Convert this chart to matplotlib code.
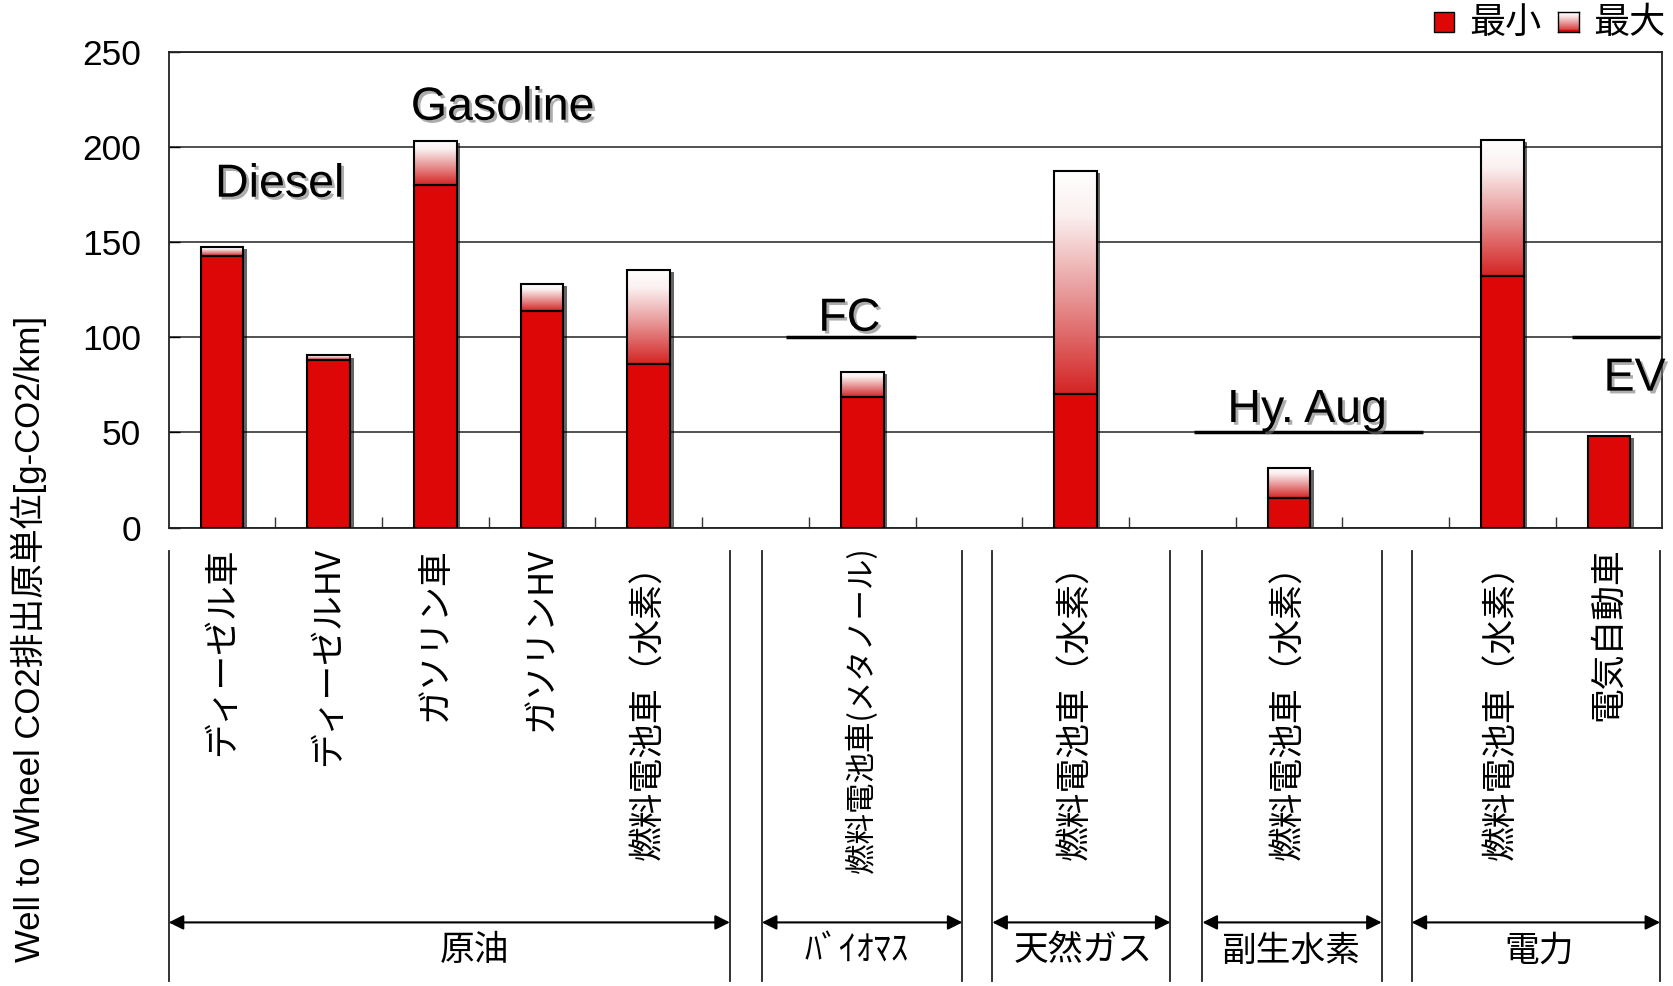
import numpy as np
import matplotlib.pyplot as plt
import matplotlib.patheffects as pe
from matplotlib.patches import Rectangle
from matplotlib.colors import LinearSegmentedColormap
from matplotlib.transforms import blended_transform_factory

plt.rcParams['font.family'] = ['Liberation Sans', 'Noto Sans CJK JP']

# bar slots on the x axis (empty slots separate the groups)
slots = [0, 1, 2, 3, 4, 6, 8, 10, 12, 13]
vehicles = ['ディーゼル車', 'ディーゼルHV', 'ガソリン車', 'ガソリンHV', '燃料電池車（水素）',
            '燃料電池車(メタノール)', '燃料電池車（水素）', '燃料電池車（水素）',
            '燃料電池車（水素）', '電気自動車']
co2_min = [143, 88, 180, 114, 86, 68.5, 70, 15.5, 132.5, 48]
co2_max = [147.5, 90.5, 203.5, 128, 135.5, 82, 187.5, 31.5, 204, 48]

# energy source groups under the axis
sources = ['原油', 'ﾊﾞｲｵﾏｽ', '天然ガス', '副生水素', '電力']
source_spans = [(-0.5, 4.76), (5.06, 6.94), (7.22, 8.89), (9.19, 10.87), (11.15, 13.48)]
source_label_x = [2.37, 5.95, 8.07, 10.02, 12.35]

RED = '#dd0707'
JP = ['Noto Sans CJK JP']
fade = LinearSegmentedColormap.from_list(
    'fade', [(0, '#d42424'), (0.45, '#e89a9a'), (0.8, '#fbf0f0'), (1, '#ffffff')])
grad = np.linspace(0, 1, 256).reshape(-1, 1)

fig = plt.figure(figsize=(16.74, 9.86), dpi=100)
ax = fig.add_axes([0.1008, 0.465, 0.8922, 0.482])

w = 0.4
shadow = [pe.SimplePatchShadow(offset=(2.5, -1.5), shadow_rgbFace='k', alpha=0.6), pe.Normal()]
for x, lo, hi in zip(slots, co2_min, co2_max):
    back = Rectangle((x - w / 2, 0), w, hi, fc='white', ec='none', zorder=2, path_effects=shadow)
    ax.add_patch(back)
    if hi > lo:
        ax.imshow(grad, extent=[x - w / 2, x + w / 2, lo, hi], cmap=fade, origin='lower',
                  aspect='auto', zorder=3, interpolation='bilinear')
        ax.add_patch(Rectangle((x - w / 2, lo), w, hi - lo, fc='none', ec='black', lw=1.5, zorder=5))
    ax.add_patch(Rectangle((x - w / 2, 0), w, lo, fc=RED, ec='black', lw=1.5, zorder=4))

ax.set_xlim(-0.5, 13.5)
ax.set_ylim(0, 250)
ax.set_yticks([0, 50, 100, 150, 200, 250])
ax.set_xticks(np.arange(0.5, 13, 1))
ax.set_xticklabels([])
ax.tick_params(axis='x', direction='in', length=8, width=1, color='#333')
ax.tick_params(axis='y', direction='in', length=8, width=1, labelsize=25.5, pad=20)
ax.yaxis.grid(True, color='#222', lw=1.1)
ax.set_axisbelow(True)
for s in ax.spines.values():
    s.set_linewidth(1.3)
    s.set_color('#222')

# group annotations inside the plot
txt_fx = [pe.withSimplePatchShadow(offset=(2, -2), shadow_rgbFace='#777', alpha=0.6)]
notes = [('Diesel', 0.54, 174), ('Gasoline', 2.63, 214.5), ('FC', 5.88, 103.5),
         ('Hy. Aug', 10.17, 55.5), ('EV', 13.24, 72)]
for label, x, y in notes:
    ax.text(x, y, label, fontsize=33.5, ha='center', va='baseline', zorder=7, path_effects=txt_fx)
for x0, x1, y in [(5.29, 6.5, 100), (9.11, 11.26, 50), (12.65, 13.48, 100)]:
    ax.plot([x0, x1], [y, y], color='black', lw=2.5, zorder=6, solid_capstyle='butt')

fig.text(0.0173, 0.6795, 'Well to Wheel CO2排出原単位[g-CO2/km]', rotation=90,
         ha='center', va='top', fontsize=25)

# vehicle labels and source brackets below the axis
tr = blended_transform_factory(ax.transData, fig.transFigure)
for x, name in zip(slots, vehicles):
    size = 22 if 'メタノール' in name else 25
    ax.text(x, 0.445, name, transform=tr, rotation=90, ha='center', va='top',
            fontsize=size, family=JP, clip_on=False)

for (x0, x1), name, lx in zip(source_spans, sources, source_label_x):
    for xe in (x0, x1):
        ax.plot([xe, xe], [0.441, 0.005], transform=tr, color='#222', lw=1.3, clip_on=False)
    ax.annotate('', xy=(x1, 0.0645), xytext=(x0, 0.0645), xycoords=tr, textcoords=tr,
                arrowprops=dict(arrowstyle='<|-|>', mutation_scale=22, lw=1.5, color='black',
                                shrinkA=0, shrinkB=0), annotation_clip=False)
    ax.text(lx, 0.0355, name, transform=tr, ha='center', va='center', fontsize=25,
            family=JP, clip_on=False)

# legend in the top right corner
fig.add_artist(Rectangle((0.8566, 0.9675), 0.012, 0.0205, transform=fig.transFigure,
                         fc=RED, ec='black', lw=1))
fig.text(0.8775, 0.977, '最小', fontsize=26, va='center', family=JP)
lax = fig.add_axes([0.931, 0.9675, 0.012, 0.0205])
lax.imshow(grad, cmap=fade, origin='lower', aspect='auto', extent=[0, 1, 0, 1])
lax.axhspan(0, 0.12, color=RED)
lax.set_xticks([])
lax.set_yticks([])
for s in lax.spines.values():
    s.set_linewidth(1)
fig.text(0.9515, 0.977, '最大', fontsize=26, va='center', family=JP)

fig.savefig('out.png', dpi=100)
